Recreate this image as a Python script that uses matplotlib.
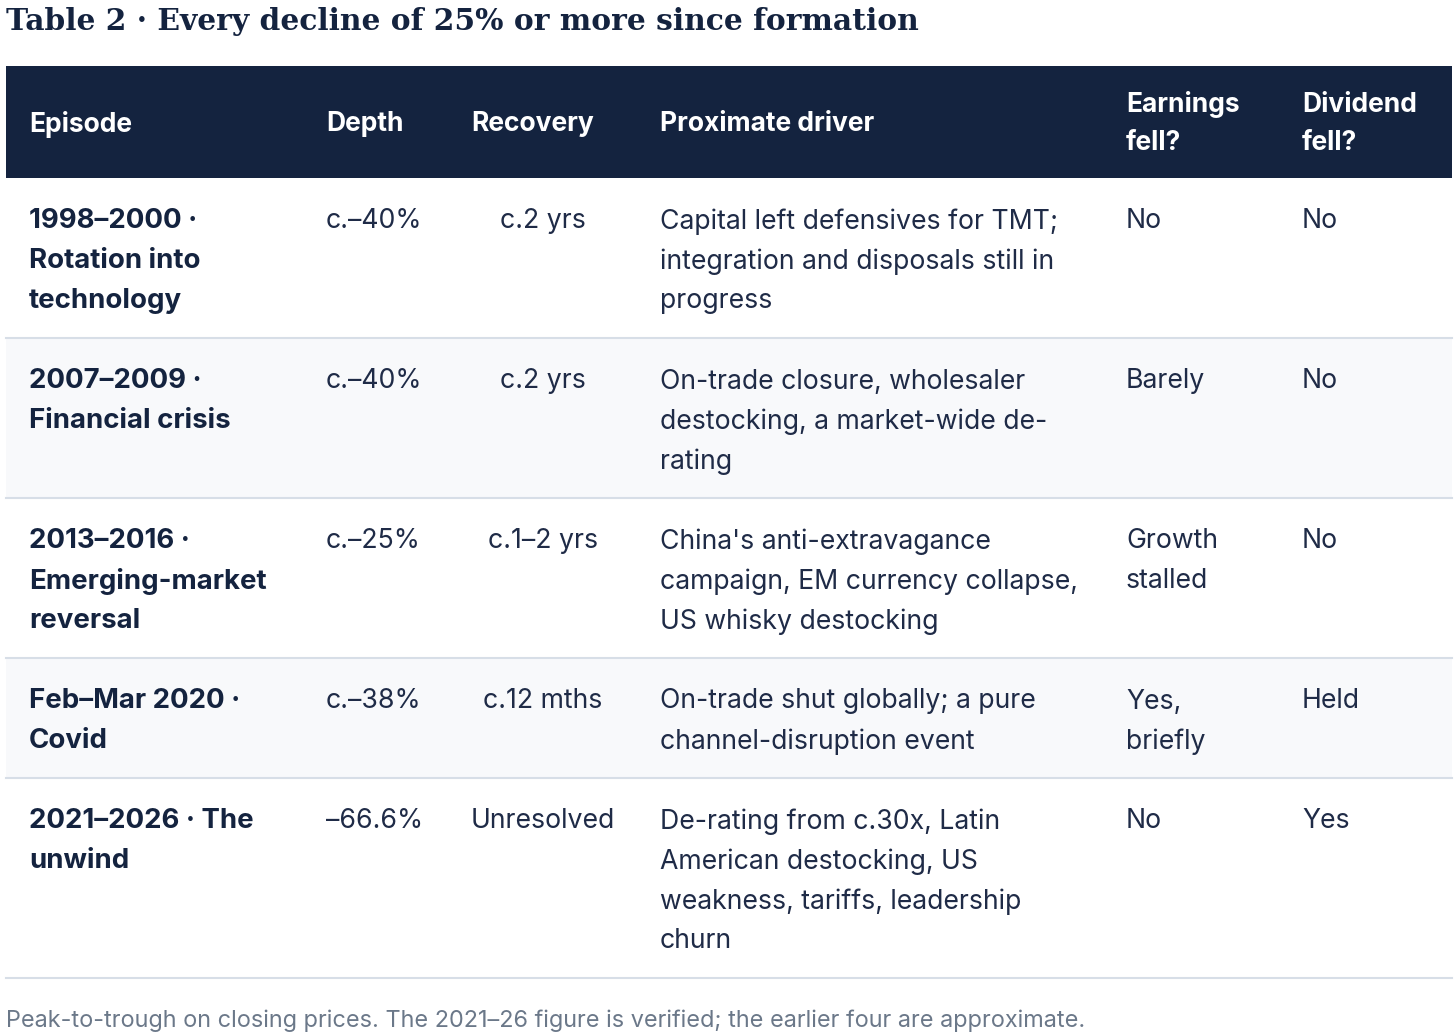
import matplotlib.pyplot as plt
from matplotlib.patches import Rectangle

# table content (line breaks as wrapped in the original)
headers = ["Episode", "Depth", "Recovery", "Proximate driver", "Earnings\nfell?", "Dividend\nfell?"]
episodes = [
    "1998\u20132000 \u00b7\nRotation into\ntechnology",
    "2007\u20132009 \u00b7\nFinancial crisis",
    "2013\u20132016 \u00b7\nEmerging-market\nreversal",
    "Feb\u2013Mar 2020 \u00b7\nCovid",
    "2021\u20132026 \u00b7 The\nunwind",
]
depth = ["c.\u201340%", "c.\u201340%", "c.\u201325%", "c.\u201338%", "\u201366.6%"]
recovery = ["c.2 yrs", "c.2 yrs", "c.1\u20132 yrs", "c.12 mths", "Unresolved"]
driver = [
    "Capital left defensives for TMT;\nintegration and disposals still in\nprogress",
    "On-trade closure, wholesaler\ndestocking, a market-wide de-\nrating",
    "China's anti-extravagance\ncampaign, EM currency collapse,\nUS whisky destocking",
    "On-trade shut globally; a pure\nchannel-disruption event",
    "De-rating from c.30x, Latin\nAmerican destocking, US\nweakness, tariffs, leadership\nchurn",
]
earnings = ["No", "Barely", "Growth\nstalled", "Yes,\nbriefly", "No"]
dividend = ["No", "No", "No", "Held", "Yes"]

title = "Table 2 \u00b7 Every decline of 25% or more since formation"
note = "Peak-to-trough on closing prices. The 2021\u201326 figure is verified; the earlier four are approximate."

W, H = 1456, 1035
navy = "#14233f"
body = "#1f2b47"
stripe = "#f8f9fb"
rule = "#d7dee7"

col_x = [29, 326, 543, 660, 1126, 1302]
col_ha = ["left", "left", "center", "left", "left", "left"]
left, right = 6, 1452
head_top, head_bot = 66, 178
line_h = 40
fs = 19.2

fig = plt.figure(figsize=(W / 100, H / 100), dpi=100)
ax = fig.add_axes([0, 0, 1, 1])
ax.set_xlim(0, W)
ax.set_ylim(H, 0)
ax.axis("off")

plt.rcParams["font.family"] = ["Inter", "DejaVu Sans"]

ax.text(left, 21, title, fontsize=21.4, fontweight="bold", family="DejaVu Serif",
        color=navy, va="center", ha="left")

# header
ax.add_patch(Rectangle((left, head_top), right - left, head_bot - head_top, color=navy, lw=0))
for j, h in enumerate(headers):
    lines = h.split("\n")
    mid = (head_top + head_bot) / 2 + 2
    x = col_x[j] if j != 2 else 471
    for k, ln in enumerate(lines):
        y = mid + (k - (len(lines) - 1) / 2) * 38
        ax.text(x, y, ln, fontsize=fs - 0.2, fontweight="bold", color="white", va="center", ha="left")

# body rows
top = head_bot
for i in range(len(episodes)):
    cells = [episodes[i], depth[i], recovery[i], driver[i], earnings[i], dividend[i]]
    nlines = max(len(c.split("\n")) for c in cells)
    row_h = nlines * line_h + 40
    if i % 2 == 1:
        ax.add_patch(Rectangle((left, top), right - left, row_h, color=stripe, lw=0))
    for j, c in enumerate(cells):
        for k, ln in enumerate(c.split("\n")):
            ax.text(col_x[j], top + 43.5 + k * line_h, ln,
                    fontsize=19.9 if j == 0 else fs,
                    fontweight="bold" if j == 0 else "normal",
                    color=navy if j == 0 else body, va="center", ha=col_ha[j])
    top += row_h
    ax.plot([left, right], [top, top], color=rule, lw=1.5)

ax.text(left, 1021, note, fontsize=16.9, color="#6b7889", va="center", ha="left")

fig.savefig("out.png", dpi=100, facecolor="white")
